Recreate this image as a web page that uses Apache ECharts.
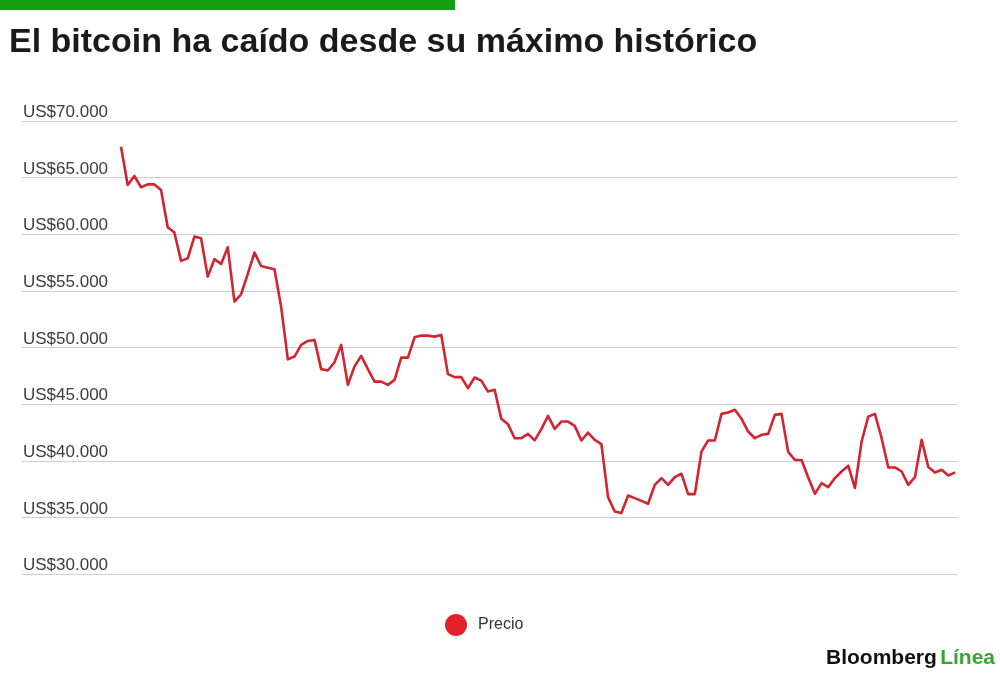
<!DOCTYPE html>
<html>
<head>
<meta charset="utf-8">
<script src="https://cdn.jsdelivr.net/npm/echarts@6/dist/echarts.min.js"></script>
<style>
html,body{margin:0;padding:0;background:#fff;}
#c{width:1000px;height:673px;}
</style>
</head>
<body>
<div id="c"></div>
<script>
var titleText = 'El bitcoin ha caído desde su máximo histórico';
var seriesName = 'Precio';
var yTicks = [30000, 35000, 40000, 45000, 50000, 55000, 60000, 65000, 70000];
var prices = [
  67730, 64350, 65150, 64150, 64400, 64400, 63900, 60620, 60150, 57650,
  57880, 59790, 59650, 56260, 57800, 57380, 58850, 54050, 54700, 56500,
  58380, 57200, 57050, 56910, 53600, 48950, 49200, 50230, 50580, 50670,
  48090, 47970, 48700, 50230, 46700, 48330, 49260, 48090, 46990, 46990,
  46700, 47140, 49110, 49110, 50900, 51050, 51050, 50960, 51110, 47650,
  47380, 47380, 46410, 47350, 47080, 46110, 46260, 43700, 43230, 41990,
  41990, 42370, 41800, 42790, 43960, 42820, 43460, 43460, 43080, 41790,
  42490, 41850, 41470, 36790, 35520, 35380, 36930, 36700, 36460, 36200,
  37870, 38470, 37870, 38560, 38850, 37050, 37050, 40810, 41790, 41790,
  44140, 44260, 44500, 43700, 42580, 41990, 42290, 42370, 44050, 44140,
  40780, 40070, 40070, 38520, 37080, 38020, 37670, 38470, 39050, 39560,
  37590, 41700, 43900, 44140, 41990, 39410, 39410, 39050, 37870, 38560,
  41850, 39440, 38970, 39200, 38700, 38970
];
var days = prices.map(function (_, i) { return 'd' + (i + 1); });

function fmt(v) {
  return 'US$' + String(v / 1000) + '.000';
}

var chart = echarts.init(document.getElementById('c'));
chart.setOption({
  backgroundColor: '#fff',
  animation: false,
  title: {
    text: titleText,
    left: 4,
    top: 21,
    textStyle: {
      fontFamily: 'Liberation Sans',
      fontWeight: 'bold',
      fontSize: 34,
      color: '#1a1a1a'
    }
  },
  legend: {
    data: [{ name: seriesName, icon: 'circle' }],
    left: 440,
    top: 609,
    itemWidth: 22,
    itemHeight: 22,
    itemGap: 10,
    textStyle: { fontFamily: 'Liberation Sans', fontSize: 16, color: '#333', padding: [0, 0, 0, 6] }
  },
  grid: [
    { left: 22, right: 42, top: 121, bottom: 99 },
    { left: 121, right: 45, top: 121, bottom: 99 }
  ],
  xAxis: [
    { type: 'category', gridIndex: 0, data: days, show: false },
    { type: 'category', gridIndex: 1, data: days, boundaryGap: false, show: false }
  ],
  yAxis: [
    {
      type: 'value', gridIndex: 0,
      min: yTicks[0], max: yTicks[yTicks.length - 1], interval: 5000,
      axisLine: { show: false }, axisTick: { show: false },
      splitLine: { lineStyle: { color: '#cfcfcf', width: 1 } },
      axisLabel: {
        inside: true,
        margin: 0,
        formatter: fmt,
        fontFamily: 'Liberation Sans',
        fontSize: 17,
        color: '#3c3c3c',
        verticalAlign: 'bottom',
        padding: [0, 0, 0, 1]
      }
    },
    {
      type: 'value', gridIndex: 1,
      min: yTicks[0], max: yTicks[yTicks.length - 1], interval: 5000,
      show: false, splitLine: { show: false }
    }
  ],
  series: [{
    name: seriesName,
    type: 'line',
    xAxisIndex: 1,
    yAxisIndex: 1,
    data: prices,
    showSymbol: false,
    symbol: 'circle',
    color: '#e0202a',
    lineStyle: { color: '#d22530', width: 2.6, join: 'round' }
  }],
  graphic: [
    {
      type: 'rect',
      shape: { x: 0, y: 0, width: 455, height: 10 },
      style: { fill: '#12a010' }
    },
    {
      type: 'text',
      right: 5,
      top: 648,
      style: {
        text: '{a|Bloomberg} {b|Línea}',
        rich: {
          a: { fontFamily: 'Liberation Sans', fontWeight: 'bold', fontSize: 21, fill: '#111' },
          b: { fontFamily: 'Liberation Sans', fontWeight: 'bold', fontSize: 21, fill: '#3aa535' }
        }
      }
    }
  ]
});
</script>
</body>
</html>
